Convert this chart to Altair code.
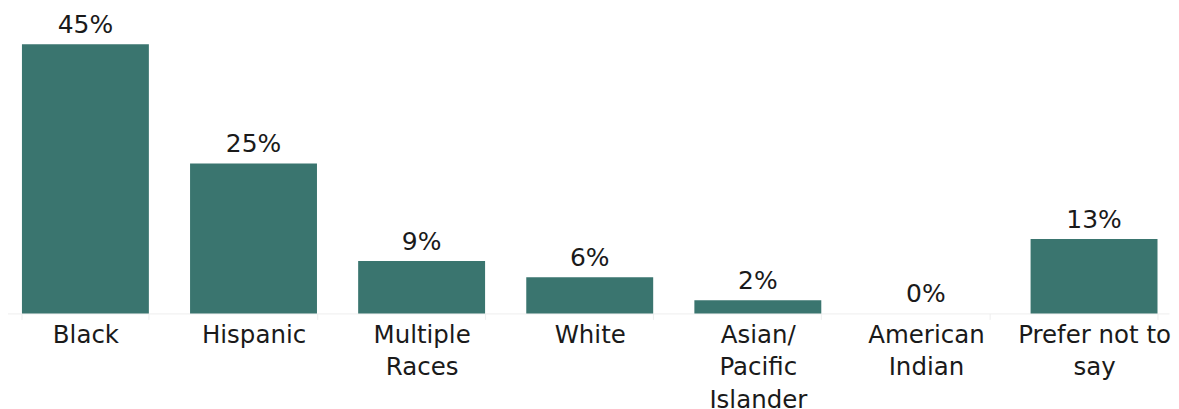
import altair as alt
import pandas as pd

categories = ["Black", "Hispanic", "Multiple|Races", "White",
              "Asian/|Pacific|Islander", "American|Indian", "Prefer not to|say"]
values = [45.3, 25.2, 8.8, 6.1, 2.2, 0.0, 12.5]
labels = ["45%", "25%", "9%", "6%", "2%", "0%", "13%"]

df = pd.DataFrame({"cat": categories, "val": values, "lab": labels})

FONT = "DejaVu Sans"
x = alt.X("cat:N", sort=categories, title=None,
          scale=alt.Scale(paddingInner=0.245, paddingOuter=0.095, align=0.64),
          axis=alt.Axis(labelAngle=0, labelExpr="split(datum.label, '|')",
                        labelFontSize=24.5, labelFont=FONT, labelColor="#1a1a1a",
                        labelLineHeight=32.5, labelPadding=4, labelBaseline="top",
                        domain=True, domainColor="#eeeeee", domainWidth=1,
                        ticks=True, tickColor="#eeeeee", tickSize=6, tickBand="extent",
                        grid=False))
y = alt.Y("val:Q", title=None,
          scale=alt.Scale(domain=[0, 51.35], nice=False, zero=True),
          axis=None)

bars = alt.Chart(df).mark_bar(color="#3a756f").encode(x=x, y=y)
text = alt.Chart(df).mark_text(baseline="alphabetic", dy=-11.5, fontSize=25, font=FONT,
                               color="#1a1a1a").encode(x=x, y=y, text="lab:N")

chart = alt.layer(bars, text).properties(
    width=1168.5, height=305.5, padding={"left": -6.5, "top": 0, "right": 0, "bottom": 0}
).configure_view(stroke=None)

chart.save("out.html", embed_options={"renderer": "svg", "actions": False})
